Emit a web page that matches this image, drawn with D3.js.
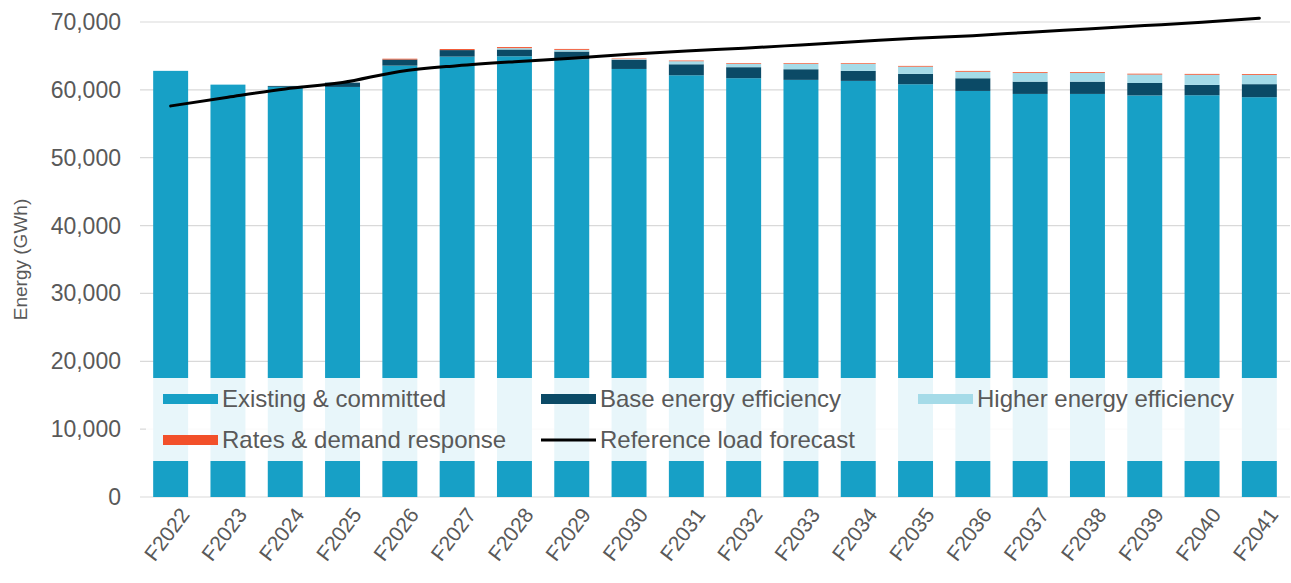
<!DOCTYPE html>
<html>
<head>
<meta charset="utf-8">
<script src="https://cdn.jsdelivr.net/npm/d3@7"></script>
<style>
  html, body { margin: 0; padding: 0; background: #ffffff; }
  svg { display: block; font-family: "Liberation Sans", Arial, sans-serif; }
</style>
</head>
<body>
<svg id="chart" width="1291" height="583"></svg>
<script>
// Fiscal years
const categories = ["F2022","F2023","F2024","F2025","F2026","F2027","F2028","F2029","F2030","F2031",
                    "F2032","F2033","F2034","F2035","F2036","F2037","F2038","F2039","F2040","F2041"];

// Stacked resource components (GWh)
const existing = [62800, 60770, 60450, 60430, 63570, 64900, 64950, 64500, 63080, 62150,
                  61720, 61470, 61320, 60830, 59840, 59400, 59400, 59180, 59210, 58920];
const baseEE   = [0, 0, 130, 640, 900, 960, 1000, 1150, 1350, 1620,
                  1620, 1570, 1470, 1520, 1870, 1810, 1810, 1830, 1520, 1920];
const higherEE = [0, 0, 0, 0, 0, 0, 200, 250, 100, 450,
                  500, 800, 1040, 1070, 960, 1270, 1270, 1250, 1500, 1350];
const ratesDR  = [0, 0, 0, 0, 120, 150, 150, 130, 80, 100,
                  100, 100, 100, 110, 120, 120, 120, 120, 120, 120];

// Reference load forecast (GWh)
const referenceLoad = [57630, 58920, 60140, 61070, 62720, 63560, 64160, 64660, 65250, 65740,
                       66140, 66620, 67110, 67610, 67990, 68500, 68980, 69470, 69970, 70560];

const yTicks = [0, 10000, 20000, 30000, 40000, 50000, 60000, 70000];

const seriesKeys   = ["existing", "baseEE", "higherEE", "ratesDR"];
const seriesNames  = ["Existing & committed", "Base energy efficiency", "Higher energy efficiency", "Rates & demand response"];
const seriesColors = ["#17a0c6", "#0b4a66", "#a5dbe8", "#f2502a"];

const rows = categories.map((c, i) => ({
  cat: c, existing: existing[i], baseEE: baseEE[i], higherEE: higherEE[i], ratesDR: ratesDR[i]
}));

const svg = d3.select("#chart");
const plotLeft = 142, plotRight = 1288, plotTop = 22, plotBottom = 497;

const x = d3.scaleBand().domain(categories).range([plotLeft, plotRight]).paddingInner(0.39).paddingOuter(0.195);
const y = d3.scaleLinear().domain([0, 70000]).range([plotBottom, plotTop]);

// Gridlines
svg.append("g").selectAll("line").data(yTicks).join("line")
  .attr("x1", plotLeft - 2).attr("x2", 1290)
  .attr("y1", d => y(d)).attr("y2", d => y(d))
  .attr("stroke", "#d9d9d9").attr("stroke-width", 1.2);

// Y tick labels
svg.append("g").selectAll("text").data(yTicks).join("text")
  .attr("x", 121).attr("y", d => y(d)).attr("dy", "0.35em")
  .attr("text-anchor", "end").attr("fill", "#595959")
  .style("font-size", "23px")
  .text(d => d3.format(",")(d));

// Y axis title
svg.append("text")
  .attr("transform", `translate(27,${(plotTop + plotBottom) / 2}) rotate(-90)`)
  .attr("text-anchor", "middle").attr("fill", "#595959")
  .style("font-size", "19px")
  .text("Energy (GWh)");

// Stacked bars
const stacked = d3.stack().keys(seriesKeys)(rows);
svg.append("g").selectAll("g").data(stacked).join("g")
  .attr("fill", (d, i) => seriesColors[i])
  .selectAll("rect").data(d => d).join("rect")
  .attr("x", d => x(d.data.cat))
  .attr("width", x.bandwidth())
  .attr("y", d => y(d[1]))
  .attr("height", d => Math.max(0, y(d[0]) - y(d[1])));

// Reference load line
const line = d3.line()
  .x((d, i) => x(categories[i]) + x.bandwidth() / 2)
  .y(d => y(d))
  .curve(d3.curveMonotoneX);
svg.append("path").datum(referenceLoad)
  .attr("d", line)
  .attr("fill", "none").attr("stroke", "#000000").attr("stroke-width", 3)
  .attr("stroke-linejoin", "round").attr("stroke-linecap", "round");

// X category labels
svg.append("g").selectAll("text").data(categories).join("text")
  .attr("transform", d => `translate(${x(d) + x.bandwidth() / 2 + 20},${plotBottom + 18}) rotate(-53)`)
  .attr("text-anchor", "end").attr("fill", "#595959")
  .style("font-size", "21px")
  .text(d => d);

// Legend panel
const legend = svg.append("g");
legend.append("rect")
  .attr("x", 146).attr("y", 378).attr("width", 1145).attr("height", 83)
  .attr("fill", "#ffffff").attr("fill-opacity", 0.9);

const legendItems = [
  { name: seriesNames[0], color: seriesColors[0], type: "box", lx: 163, ly: 399 },
  { name: seriesNames[1], color: seriesColors[1], type: "box", lx: 541, ly: 399 },
  { name: seriesNames[2], color: seriesColors[2], type: "box", lx: 918, ly: 399 },
  { name: seriesNames[3], color: seriesColors[3], type: "box", lx: 163, ly: 440 },
  { name: "Reference load forecast", color: "#000000", type: "line", lx: 541, ly: 440 }
];
const li = legend.selectAll("g.item").data(legendItems).join("g").attr("class", "item");
li.filter(d => d.type === "box").append("rect")
  .attr("x", d => d.lx).attr("y", d => d.ly - 5).attr("width", 55).attr("height", 10)
  .attr("fill", d => d.color);
li.filter(d => d.type === "line").append("line")
  .attr("x1", d => d.lx).attr("x2", d => d.lx + 55)
  .attr("y1", d => d.ly).attr("y2", d => d.ly)
  .attr("stroke", d => d.color).attr("stroke-width", 3);
li.append("text")
  .attr("x", d => d.lx + 59).attr("y", d => d.ly).attr("dy", "0.35em")
  .attr("fill", "#595959").style("font-size", "24px")
  .text(d => d.name);
</script>
</body>
</html>
